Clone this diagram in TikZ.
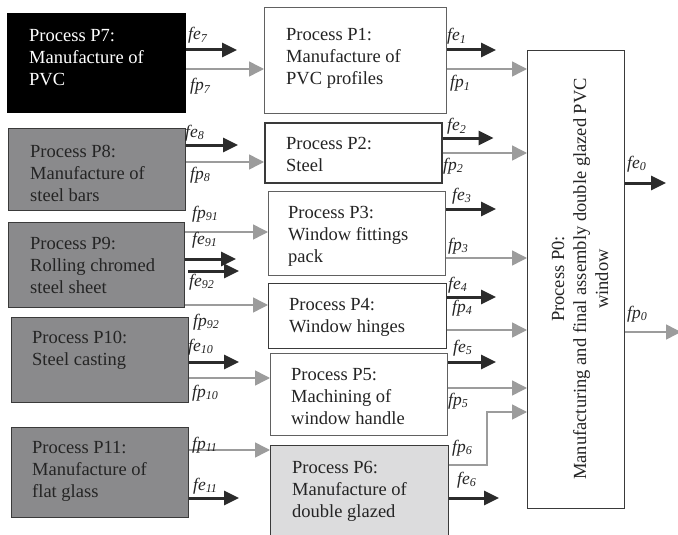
\documentclass[tikz,border=0pt]{standalone}
\usepackage{fontspec}
\setmainfont{Liberation Serif}
\usetikzlibrary{arrows.meta}
\definecolor{midgray}{HTML}{8A8A8C}
\definecolor{lightg}{HTML}{DCDCDD}
\definecolor{arrk}{HTML}{2B2B2B}
\definecolor{arrg}{HTML}{9C9C9C}
\definecolor{boxln}{HTML}{3A3A3A}
\definecolor{txtc}{HTML}{242424}
\newcommand\flab[2]{#1\raisebox{-2.5pt}{\fontsize{12}{12}\selectfont #2}}
\newcommand\fl{\rule{0pt}{15pt}}
\tikzset{
  box/.style={draw=boxln, line width=1pt, anchor=north west, inner sep=0pt},
  dbox/.style={box, fill=midgray},
  wbox/.style={box, draw=boxln!80, fill=white},
  txt/.style={anchor=north west, inner sep=0pt, align=left, text=txtc,
    font=\fontsize{18.5}{22.3}\selectfont},
  fe/.style={draw=arrk, line width=3pt, -{Triangle[length=15pt,width=14pt]}},
  fp/.style={draw=arrg, line width=1.5pt, -{Triangle[length=15pt,width=15pt]}},
  lab/.style={anchor=base west, inner sep=0pt, text=txtc,
    font=\fontsize{17.5}{17.5}\selectfont\itshape}
}
\begin{document}
\begin{tikzpicture}[x=1pt, y=-1pt]
\clip (0,0) rectangle (678,535);
\fill[white] (0,0) rectangle (678,535);
% left boxes
\node[box, fill=black, draw=black, minimum width=178pt, minimum height=99pt] (p7) at (7,13) {};
\node[dbox, minimum width=177pt, minimum height=82pt] (p8) at (8,128) {};
\node[dbox, minimum width=176pt, minimum height=85pt] (p9) at (8,222) {};
\node[dbox, minimum width=177pt, minimum height=85pt] (p10) at (11,317) {};
\node[dbox, minimum width=177pt, minimum height=90pt] (p11) at (11,427) {};
% middle boxes
\node[wbox, minimum width=182pt, minimum height=106pt] (p1) at (264,7) {};
\node[wbox, draw=boxln, line width=1.5pt, minimum width=177pt, minimum height=60pt] (p2) at (264,122) {};
\node[wbox, minimum width=177pt, minimum height=84pt] (p3) at (268,191) {};
\node[wbox, draw=boxln, minimum width=178pt, minimum height=65pt] (p4) at (268,283) {};
\node[wbox, minimum width=177pt, minimum height=82pt] (p5) at (270,353) {};
\node[box, fill=lightg, minimum width=178pt, minimum height=100pt] (p6) at (270,445) {};
% final box
\node[box, fill=white, minimum width=97pt, minimum height=458pt] (p0) at (527,50) {};
% texts
\node[txt, text=white] (t7) at (29,26) {\fl Process P7:\\Manufacture of\\PVC};
\node[txt] (t8) at (30,142) {\fl Process P8:\\Manufacture of\\steel bars};
\node[txt] (t9) at (30,234) {\fl Process P9:\\Rolling chromed\\steel sheet};
\node[txt] (t10) at (32,328) {\fl Process P10:\\Steel casting};
\node[txt] (t11) at (32,438) {\fl Process P11:\\Manufacture of\\flat glass};
\node[txt] (t1) at (286,25) {\fl Process P1:\\Manufacture of\\PVC profiles};
\node[txt] (t2) at (286,134) {\fl Process P2:\\Steel};
\node[txt] (t3) at (288,203) {\fl Process P3:\\Window fittings\\pack};
\node[txt] (t4) at (289,295) {\fl Process P4:\\Window hinges};
\node[txt] (t5) at (291,365) {\fl Process P5:\\Machining of\\window handle};
\node[txt] (t6) at (292,458) {\fl Process P6:\\Manufacture of\\double glazed};
\node[rotate=90, align=center, inner sep=0pt, text=txtc, font=\fontsize{18.5}{22}\selectfont] (t0) at (580,279)
  {Process P0:\\Manufacturing and final assembly double glazed PVC\\window};
% left arrows
\draw[fe] (p7.east |- 0,50) -- ++(51,0);
\draw[fp] (p7.east |- 0,69) -- (p1.west |- 0,69);
\draw[fe] (p8.east |- 0,145) -- ++(52,0);
\draw[fp] (p8.east |- 0,162) -- (p2.west |- 0,162);
\draw[fp] (p9.east |- 0,232) -- (p3.west |- 0,232);
\draw[fe] (p9.east |- 0,259) -- ++(51,0);
\draw[fe] (p9.east |- 0,271) ++(3,0) -- ++(51,0);
\draw[fp] (p9.east |- 0,305) -- (p4.west |- 0,305);
\draw[fe] (p10.east |- 0,362) -- ++(50,0);
\draw[fp] (p10.east |- 0,378) -- (p5.west |- 0,378);
\draw[fp] (p11.east |- 0,450) -- (p6.west |- 0,450);
\draw[fe] (p11.east |- 0,498) -- ++(50,0);
% right arrows
\draw[fe] (p1.east |- 0,50) -- ++(49,0);
\draw[fp] (p1.east |- 0,69) -- (p0.west |- 0,69);
\draw[fe] (p2.east |- 0,138) -- ++(51,0);
\draw[fp] (p2.east |- 0,153) -- (p0.west |- 0,153);
\draw[fe] (p3.east |- 0,209) -- ++(50,0);
\draw[fp] (p3.east |- 0,258) -- (p0.west |- 0,258);
\draw[fe] (p4.east |- 0,297) -- ++(49,0);
\draw[fp] (p4.east |- 0,330) -- (p0.west |- 0,330);
\draw[fe] (p5.east |- 0,362) -- ++(48,0);
\draw[fp] (p5.east |- 0,388) -- (p0.west |- 0,388);
\coordinate (bend6) at (487,412);
\draw[fp] (p6.east |- 0,465) -| (bend6) -- (p0.west |- bend6);
\draw[fe] (p6.east |- 0,498) -- ++(50,0);
\draw[fe] (p0.east |- 0,183) -- ++(41,0);
\draw[fp] (p0.east |- 0,332) -- ++(56,0);
% labels
\node[lab] (le7) at (188,40) {\flab{fe}{7}};
\node[lab] (lp7) at (190,91) {\flab{fp}{7}};
\node[lab] (le8) at (185,137) {\flab{fe}{8}};
\node[lab] (lp8) at (190,179) {\flab{fp}{8}};
\node[lab] (lp91) at (192,218) {\flab{fp}{91}};
\node[lab] (le91) at (192,244) {\flab{fe}{91}};
\node[lab] (le92) at (189,286) {\flab{fe}{92}};
\node[lab] (lp92) at (193,326) {\flab{fp}{92}};
\node[lab] (le10) at (188,351) {\flab{fe}{10}};
\node[lab] (lp10) at (192,397) {\flab{fp}{10}};
\node[lab] (lp11) at (192,449) {\flab{fp}{11}};
\node[lab] (le11) at (193,490) {\flab{fe}{11}};
\node[lab] (le1) at (447,41) {\flab{fe}{1}};
\node[lab] (lp1) at (450,88) {\flab{fp}{1}};
\node[lab] (le2) at (447,131) {\flab{fe}{2}};
\node[lab] (lp2) at (443,170) {\flab{fp}{2}};
\node[lab] (le3) at (452,200) {\flab{fe}{3}};
\node[lab] (lp3) at (448,250) {\flab{fp}{3}};
\node[lab] (le4) at (448,289) {\flab{fe}{4}};
\node[lab] (lp4) at (452,312) {\flab{fp}{4}};
\node[lab] (le5) at (453,352) {\flab{fe}{5}};
\node[lab] (lp5) at (448,405) {\flab{fp}{5}};
\node[lab] (lp6) at (452,452) {\flab{fp}{6}};
\node[lab] (le6) at (457,484) {\flab{fe}{6}};
\node[lab] (le0) at (627,168) {\flab{fe}{0}};
\node[lab] (lp0) at (627,318) {\flab{fp}{0}};
\end{tikzpicture}
\end{document}
